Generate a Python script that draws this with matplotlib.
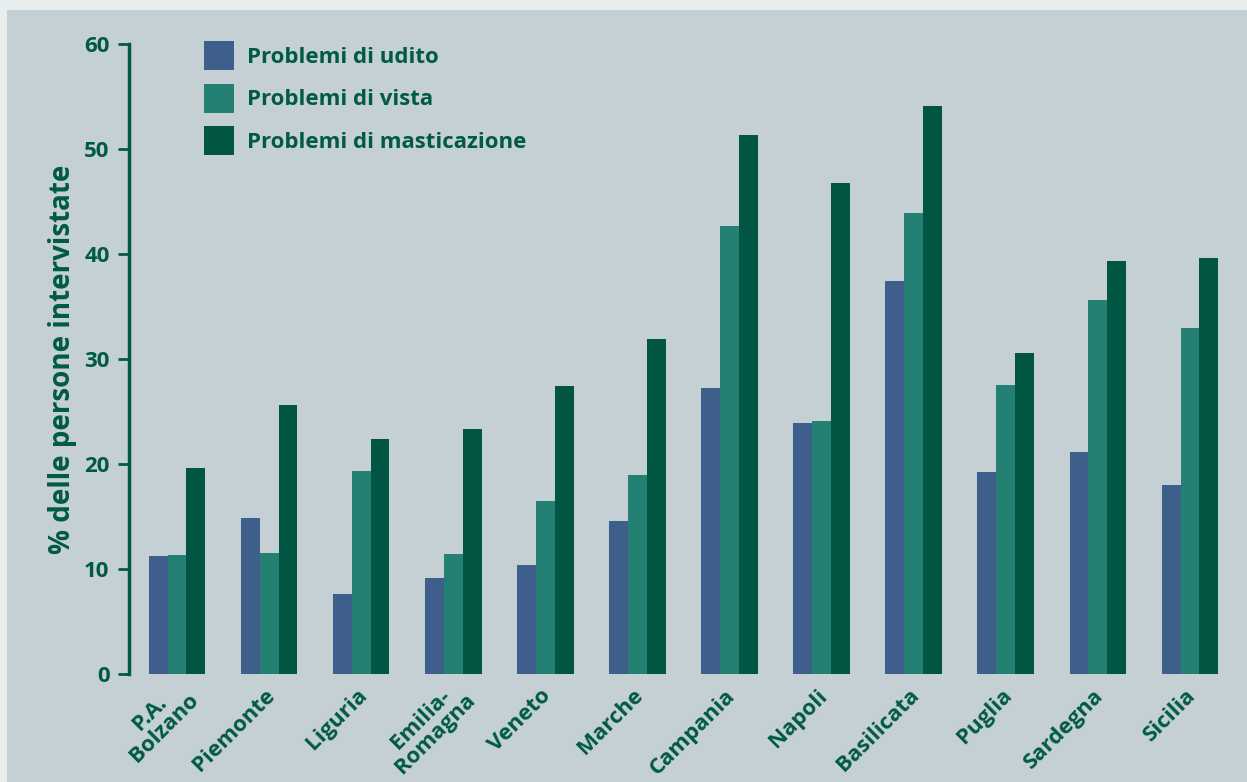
import matplotlib
matplotlib.use("Agg")
import matplotlib.pyplot as plt
import matplotlib.transforms as mtransforms
from matplotlib.patches import Rectangle, Patch
import numpy as np

categories = ["P.A.\nBolzano", "Piemonte", "Liguria", "Emilia-\nRomagna", "Veneto", "Marche",
              "Campania", "Napoli", "Basilicata", "Puglia", "Sardegna", "Sicilia"]
udito = [11.2, 14.9, 7.6, 9.1, 10.4, 14.6, 27.2, 23.9, 37.4, 19.2, 21.1, 18.0]
vista = [11.3, 11.5, 19.3, 11.4, 16.5, 19.0, 42.7, 24.1, 43.9, 27.5, 35.6, 33.0]
masticazione = [19.6, 25.6, 22.4, 23.3, 27.4, 31.9, 51.3, 46.8, 54.1, 30.6, 39.3, 39.6]
series_names = ["Problemi di udito", "Problemi di vista", "Problemi di masticazione"]
yticks = [0, 10, 20, 30, 40, 50, 60]

colors = ["#3e5f8c", "#238072", "#005643"]
text_color = "#005a46"
plt.rcParams['font.family'] = ['Open Sans', 'DejaVu Sans']
plt.rcParams['font.weight'] = 'bold'

fig = plt.figure(figsize=(12.47, 7.82), dpi=100)
fig.patch.set_facecolor("#e8eeee")
panel = Rectangle((7/1247, 0), 1 - 7/1247, 1 - 10/782, transform=fig.transFigure,
                  facecolor="#c5d0d5", edgecolor="none", zorder=-10)
fig.add_artist(panel)

ax = fig.add_axes([129/1247, 1 - 674/782, (1236 - 129)/1247, (674 - 44)/782])
ax.set_facecolor("none")
ax.set_zorder(2)

x = np.arange(len(categories))
w = 0.205
for i, (vals, c) in enumerate(zip([udito, vista, masticazione], colors)):
    ax.bar(x + (i - 1) * w, vals, width=w, color=c, edgecolor="none", zorder=2)

ax.set_xlim(-0.521, 11.5)
ax.set_ylim(0, 60)
ax.set_yticks(yticks)
ax.set_yticklabels([str(t) for t in yticks], fontsize=16, fontweight='bold', color=text_color)
ax.tick_params(axis='y', direction='out', length=8, width=2, color=text_color, pad=6)
ax.set_xticks(x)
ax.set_xticklabels(categories, rotation=45, ha='right', va='top', multialignment='center',
                   fontsize=16, fontweight='bold', color=text_color, linespacing=0.95)
ax.tick_params(axis='x', length=0, pad=8)
for lab in ax.get_xticklabels():
    if "\n" in lab.get_text():
        off = mtransforms.ScaledTranslation(26/100, 10/100, fig.dpi_scale_trans)
    else:
        off = mtransforms.ScaledTranslation(10/100, 0, fig.dpi_scale_trans)
    lab.set_transform(lab.get_transform() + off)

for s in ["top", "right", "bottom"]:
    ax.spines[s].set_visible(False)
ax.spines["left"].set_color(text_color)
ax.spines["left"].set_linewidth(2.5)

ax.set_ylabel("% delle persone intervistate", fontsize=20, fontweight='bold', color=text_color, labelpad=5)

handles = [Patch(facecolor=c, edgecolor="none") for c in colors]
leg = ax.legend(handles, series_names, loc="upper left", bbox_to_anchor=(75/1107, 1.004),
                frameon=False, fontsize=16, handlelength=1.35, handleheight=1.62,
                handletextpad=0.59, labelspacing=0.6, borderaxespad=0, borderpad=0)
for t in leg.get_texts():
    t.set_color(text_color)
    t.set_fontweight('bold')

fig.savefig("out.png", dpi=100, facecolor=fig.get_facecolor())
